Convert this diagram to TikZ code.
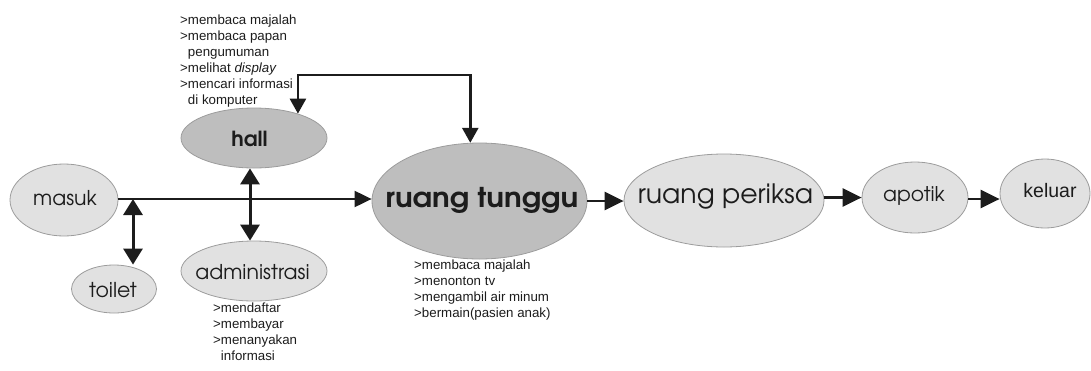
\documentclass[tikz,border=0pt]{standalone}
\usepackage{fontspec}
\setmainfont{Liberation Sans}
\newfontfamily\geo{texgyreadventor}[Extension=.otf, UprightFont=*-regular, BoldFont=*-bold, ItalicFont=*-italic, BoldItalicFont=*-bolditalic]
\newfontfamily\geowide{texgyreadventor}[Extension=.otf, UprightFont=*-bold, FakeStretch=1.08]
\usetikzlibrary{shapes.geometric,arrows.meta}
\definecolor{lightfill}{HTML}{E1E1E1}
\definecolor{darkfill}{HTML}{BEBEBE}
\definecolor{rimgray}{HTML}{9C9C9C}
\definecolor{ink}{HTML}{1C1C1C}
\tikzset{
  ell/.style={ellipse, draw=rimgray, line width=0.8pt, inner sep=0pt},
  lightell/.style={ell, fill=lightfill},
  darkell/.style={ell, fill=darkfill},
  lbl/.style={anchor=base, inner sep=0pt, text=ink},
  note/.style={anchor=north west, inner sep=0pt, align=left, text=ink,
    font=\fontsize{13.3}{16}\selectfont},
  flow/.style={draw=ink, line width=2.4pt, -{Triangle[length=19pt,width=18pt]}},
  mainflow/.style={draw=ink, line width=2pt, -{Triangle[length=17pt,width=16pt]}},
  both/.style={draw=ink, line width=3pt, {Triangle[length=16pt,width=19pt]}-{Triangle[length=16pt,width=19pt]}},
  topflow/.style={draw=ink, line width=2.6pt, {Triangle[length=15pt,width=16pt]}-{Triangle[length=15pt,width=16pt]}},
}
\begin{document}
\begin{tikzpicture}[x=1pt,y=-1pt]
\useasboundingbox (0,0) rectangle (1091,370);
% ellipses
\node[lightell, minimum width=108pt, minimum height=72pt] (masuk) at (64,200) {};
\node[lightell, minimum width=85pt, minimum height=48pt] (toilet) at (114,289) {};
\node[darkell, minimum width=146pt, minimum height=60pt] (hall) at (254,138) {};
\node[lightell, minimum width=146pt, minimum height=60pt] (admin) at (254,271) {};
\node[darkell, minimum width=215pt, minimum height=116pt] (rt) at (479.5,201) {};
\node[lightell, minimum width=200pt, minimum height=93pt] (rp) at (724,200.5) {};
\node[lightell, minimum width=106pt, minimum height=71pt] (apotik) at (915,197.5) {};
\node[lightell, minimum width=90pt, minimum height=69pt] (keluar) at (1045,193.5) {};
% labels
\node[lbl, font=\geo\fontsize{20.4}{22}\selectfont] (masukL) at (65,205) {masuk};
\node[lbl, font=\geo\fontsize{20.5}{22}\selectfont] (toiletL) at (113,297) {toilet};
\node[lbl, font=\geo\bfseries\fontsize{20.8}{22}\selectfont] (hallL) at (249.5,146) {hall};
\node[lbl, font=\geo\fontsize{20.4}{22}\selectfont] (adminL) at (252.5,279) {administrasi};
\node[lbl, font=\geowide\fontsize{27.3}{30}\selectfont] (rtL) at (482,207) {ruang tunggu};
\node[lbl, font=\geo\fontsize{26.7}{30}\selectfont] (rpL) at (725.5,203) {ruang periksa};
\node[lbl, font=\geo\fontsize{20.3}{22}\selectfont] (apotikL) at (914,201) {apotik};
\node[lbl, font=\fontsize{19.5}{22}\selectfont] (keluarL) at (1050,197) {keluar};
% notes
\node[note] (hallN) at (180,15) {>membaca majalah\\>membaca papan\\\phantom{>}pengumuman\\>melihat \textit{display}\\>mencari informasi\\\phantom{>}di komputer};
\node[note] (adminN) at (213,303) {>mendaftar\\>membayar\\>menanyakan\\\phantom{>}informasi};
\node[note] (rtN) at (414,260) {>membaca majalah\\>menonton tv\\>mengambil air minum\\>bermain(pasien anak)};
% connectors
\coordinate (tj) at (133,199);
\coordinate (topy) at (380,75);
\draw[mainflow] (masuk.east |- tj) -- (tj -| rt.west);
\draw[both] (tj) -- (tj |- toilet.north);
\draw[both] ([xshift=-4pt]hall.south) -- ([xshift=-4pt]admin.north);
\draw[topflow] (hall.29) |- (topy) -| (rt.99);
\draw[flow] (rt.east) -- (rt.east -| rp.west);
\draw[flow] (rp.east |- apotik.west) -- (apotik.west);
\draw[flow] (apotik.east |- tj) -- (tj -| keluar.west);
\end{tikzpicture}
\end{document}
